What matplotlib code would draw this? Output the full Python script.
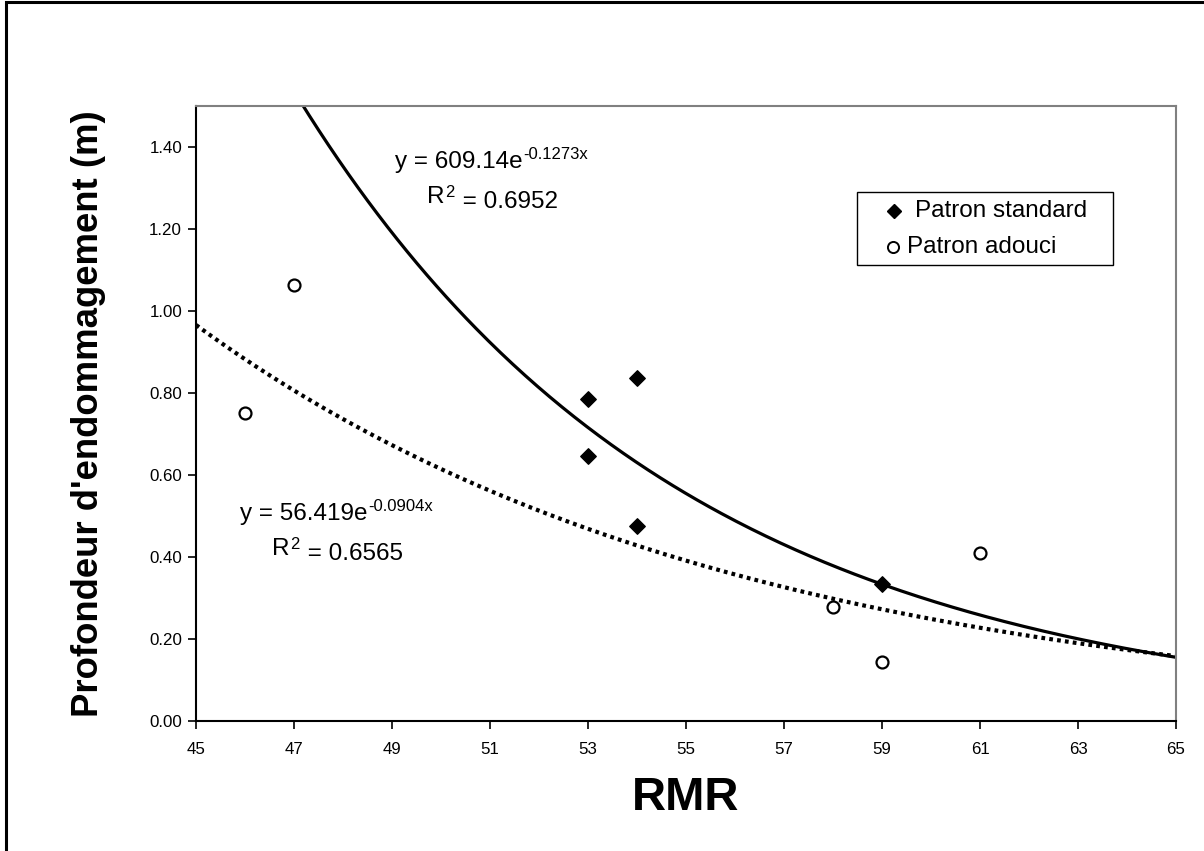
import numpy as np
import matplotlib
matplotlib.use("Agg")
import matplotlib.pyplot as plt
from matplotlib.patches import Rectangle
from matplotlib.lines import Line2D

plt.rcParams["font.family"] = ["Liberation Sans", "DejaVu Sans"]

# Data
standard_rmr = [53, 53, 54, 54, 59]
standard_depth = [0.785, 0.646, 0.836, 0.476, 0.333]
adouci_rmr = [46, 47, 58, 59, 61]
adouci_depth = [0.750, 1.063, 0.277, 0.143, 0.410]

# Exponential trend lines y = a * exp(b * x), with R²
fit_standard = (609.14, -0.1273, 0.6952)
fit_adouci = (56.419, -0.0904, 0.6565)

x_ticks = [45, 47, 49, 51, 53, 55, 57, 59, 61, 63, 65]
y_ticks = [0.00, 0.20, 0.40, 0.60, 0.80, 1.00, 1.20, 1.40]

W, H = 1204, 851
fig = plt.figure(figsize=(W / 100, H / 100), dpi=100)
ax = fig.add_axes([196 / W, 1 - 721 / H, (1176 - 196) / W, (721 - 105.7) / H])


def fx(px):
    return px / W


def fy(py):
    return 1 - py / H


xs = np.linspace(45, 65, 400)
a, b, r2 = fit_standard
ax.plot(xs, a * np.exp(b * xs), color="black", lw=2.3, zorder=2)
a2, b2, r22 = fit_adouci
ax.plot(xs, a2 * np.exp(b2 * xs), color="black", lw=3.0,
        linestyle=(0, (0.9, 1.0)), dash_capstyle="butt", zorder=2)

ax.scatter(standard_rmr, standard_depth, marker="D", s=62, color="black", zorder=3)
ax.scatter(adouci_rmr, adouci_depth, marker="o", s=74, facecolor="white",
           edgecolor="black", linewidths=1.6, zorder=3)

ax.set_xlim(45, 65)
ax.set_ylim(0, 1.5)
ax.set_xticks(x_ticks)
ax.set_xticklabels([str(v) for v in x_ticks])
ax.set_yticks(y_ticks)
ax.set_yticklabels([f"{v:.2f}" for v in y_ticks])
ax.tick_params(axis="both", direction="out", length=6, width=1.2,
               labelsize=12.2, colors="black")
ax.tick_params(axis="x", pad=9)
ax.tick_params(axis="y", pad=4)

for side in ("left", "bottom"):
    ax.spines[side].set_color("black")
    ax.spines[side].set_linewidth(1.5)
for side in ("top", "right"):
    ax.spines[side].set_color("#808080")
    ax.spines[side].set_linewidth(1.5)

ax.set_xlabel("RMR", fontsize=34, fontweight="bold", labelpad=14)
ax.set_ylabel("Profondeur d'endommagement (m)", fontsize=26.3,
              fontweight="bold", labelpad=31)


def equation(x0, y0, coef, expo, r2_val, r2_x, r2_y):
    main = fig.text(fx(x0), fy(y0), f"y = {coef}e", fontsize=17.5,
                    va="baseline", ha="left")
    fig.canvas.draw()
    ax.annotate(f"-{expo}x", xy=(1, 0), xycoords=main, xytext=(0.5, 10),
                textcoords="offset points", fontsize=12, va="baseline", ha="left")
    r = fig.text(fx(r2_x), fy(r2_y), "R", fontsize=17.5, va="baseline", ha="left")
    fig.canvas.draw()
    ax.annotate("2", xy=(1, 0), xycoords=r, xytext=(0.5, 8),
                textcoords="offset points", fontsize=12,
                va="baseline", ha="left")
    fig.canvas.draw()
    ax.annotate(f" = {r2_val:.4f}", xy=(1, 0), xycoords=r, xytext=(8, 0),
                textcoords="offset points", fontsize=17.5,
                va="baseline", ha="left")


equation(395, 168, f"{a:.2f}", f"{abs(b):.4f}", r2, 427, 203)
equation(240, 520, f"{a2:.3f}", f"{abs(b2):.4f}", r22, 272, 555)

# Legend box
fig.patches.append(Rectangle((fx(857), fy(265)), (1113 - 857) / W, (265 - 192) / H,
                             transform=fig.transFigure, fill=True,
                             facecolor="white", edgecolor="black", linewidth=1.0,
                             zorder=5))
fig.lines.append(Line2D([fx(894)], [fy(211)], transform=fig.transFigure,
                        linestyle="none", marker="D", markersize=6.8,
                        color="black", zorder=6))
fig.lines.append(Line2D([fx(893)], [fy(247)], transform=fig.transFigure,
                        linestyle="none", marker="o", markersize=8,
                        markerfacecolor="white", markeredgecolor="black",
                        markeredgewidth=1.4, zorder=6))
fig.text(fx(915), fy(211), "Patron standard", fontsize=17.5,
         va="center", ha="left", zorder=6)
fig.text(fx(907), fy(247), "Patron adouci", fontsize=17.5,
         va="center", ha="left", zorder=6)

# Outer chart frame
fig.patches.append(Rectangle((5.5 / W, -0.05), 1.2, 1.05 - 1.5 / H,
                             transform=fig.transFigure, fill=False,
                             edgecolor="black", linewidth=2.2))

fig.savefig("out.png", dpi=100)
